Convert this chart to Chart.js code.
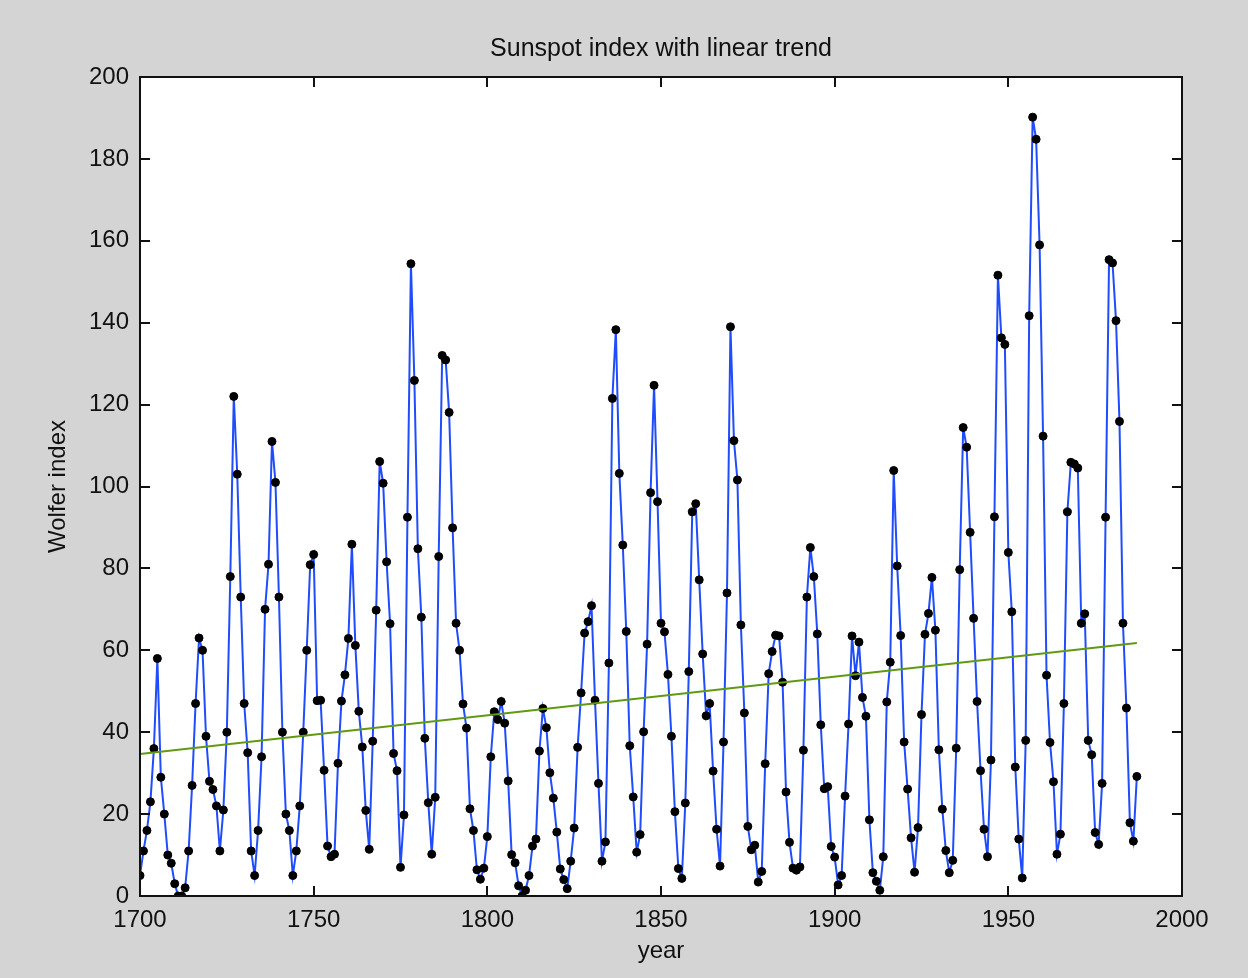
<!DOCTYPE html>
<html>
<head>
<meta charset="utf-8">
<title>Sunspot index with linear trend</title>
<script src="https://cdn.jsdelivr.net/npm/chart.js@4/dist/chart.umd.min.js"></script>
<style>
  html, body { margin: 0; padding: 0; background: #d4d4d4; }
  canvas { display: block; }
</style>
</head>
<body>
<canvas id="myChart" width="1248" height="978"></canvas>
<script>
// yearly Wolfer sunspot numbers, 1700..1987
const startYear = 1700;
const wolfer = [
  5, 11, 16, 23, 36, 58, 29, 20, 10, 8,
  3, 0, 0, 2, 11, 27, 47, 63, 60, 39,
  28, 26, 22, 11, 21, 40, 78, 122, 103, 73,
  47, 35, 11, 5, 16, 34, 70, 81, 111, 101,
  73, 40, 20, 16, 5, 11, 22, 40, 60, 80.9,
  83.4, 47.7, 47.8, 30.7, 12.2, 9.6, 10.2, 32.4, 47.6, 54,
  62.9, 85.9, 61.2, 45.1, 36.4, 20.9, 11.4, 37.8, 69.8, 106.1,
  100.8, 81.6, 66.5, 34.8, 30.6, 7, 19.8, 92.5, 154.4, 125.9,
  84.8, 68.1, 38.5, 22.8, 10.2, 24.1, 82.9, 132, 130.9, 118.1,
  89.9, 66.6, 60, 46.9, 41, 21.3, 16, 6.4, 4.1, 6.8,
  14.5, 34, 45, 43.1, 47.5, 42.2, 28.1, 10.1, 8.1, 2.5,
  0, 1.4, 5, 12.2, 13.9, 35.4, 45.8, 41.1, 30.1, 23.9,
  15.6, 6.6, 4, 1.8, 8.5, 16.6, 36.3, 49.6, 64.2, 67,
  70.9, 47.8, 27.5, 8.5, 13.2, 56.9, 121.5, 138.3, 103.2, 85.7,
  64.6, 36.7, 24.2, 10.7, 15, 40.1, 61.5, 98.5, 124.7, 96.3,
  66.6, 64.5, 54.1, 39, 20.6, 6.7, 4.3, 22.7, 54.8, 93.8,
  95.8, 77.2, 59.1, 44, 47, 30.5, 16.3, 7.3, 37.6, 74,
  139, 111.2, 101.6, 66.2, 44.7, 17, 11.3, 12.4, 3.4, 6,
  32.3, 54.3, 59.7, 63.7, 63.5, 52.2, 25.4, 13.1, 6.8, 6.3,
  7.1, 35.6, 73, 85.1, 78, 64, 41.8, 26.2, 26.7, 12.1,
  9.5, 2.7, 5, 24.4, 42, 63.5, 53.8, 62, 48.5, 43.9,
  18.6, 5.7, 3.6, 1.4, 9.6, 47.4, 57.1, 103.9, 80.6, 63.6,
  37.6, 26.1, 14.2, 5.8, 16.7, 44.3, 63.9, 69, 77.8, 64.9,
  35.7, 21.2, 11.1, 5.7, 8.7, 36.1, 79.7, 114.4, 109.6, 88.8,
  67.8, 47.5, 30.6, 16.3, 9.6, 33.2, 92.6, 151.6, 136.3, 134.7,
  83.9, 69.4, 31.5, 13.9, 4.4, 38, 141.7, 190.2, 184.8, 159,
  112.3, 53.9, 37.5, 27.9, 10.2, 15.1, 47, 93.8, 105.9, 105.5,
  104.5, 66.6, 68.9, 38, 34.5, 15.5, 12.6, 27.5, 92.5, 155.4,
  154.6, 140.5, 115.9, 66.6, 45.9, 17.9, 13.4, 29.2
];
const years = wolfer.map((v, i) => startYear + i);

// linear trend, end points
const trendYears = [1700, 1987];
const trendValues = [34.7, 61.8];

const xTicks = [1700, 1750, 1800, 1850, 1900, 1950, 2000];
const yTicks = [0, 20, 40, 60, 80, 100, 120, 140, 160, 180, 200];

const FONT = "'Liberation Sans', Arial, sans-serif";

// white plot area + box with inward ticks (matlab look)
const axesBox = {
    id: 'axesBox',
    beforeDraw(chart) {
        const {ctx, chartArea: a} = chart;
        ctx.save();
        ctx.fillStyle = '#ffffff';
        ctx.fillRect(a.left, a.top, a.right - a.left, a.bottom - a.top);
        ctx.restore();
    },
    afterDraw(chart) {
        const {ctx, chartArea: a, scales} = chart;
        const len = 10;
        ctx.save();
        ctx.strokeStyle = '#111';
        ctx.lineWidth = 2;
        ctx.strokeRect(a.left, a.top, a.right - a.left, a.bottom - a.top);
        ctx.beginPath();
        xTicks.forEach(v => {
            const px = Math.round(scales.x.getPixelForValue(v));
            ctx.moveTo(px, a.bottom); ctx.lineTo(px, a.bottom - len);
            ctx.moveTo(px, a.top); ctx.lineTo(px, a.top + len);
        });
        yTicks.forEach(v => {
            const py = Math.round(scales.y.getPixelForValue(v));
            ctx.moveTo(a.left, py); ctx.lineTo(a.left + len, py);
            ctx.moveTo(a.right, py); ctx.lineTo(a.right - len, py);
        });
        ctx.stroke();
        ctx.restore();
    }
};

const ctx = document.getElementById('myChart');

new Chart(ctx, {
    type: 'line',
    data: {
        datasets: [{
            label: 'Wolfer index',
            data: years.map((y, i) => ({x: y, y: wolfer[i]})),
            borderColor: '#1f4cff',
            borderWidth: 2,
            pointRadius: 4,
            pointStyle: 'circle',
            pointBackgroundColor: '#000',
            pointBorderColor: '#000',
            pointBorderWidth: 1,
            tension: 0,
            order: 2
        }, {
            label: 'trend',
            data: trendYears.map((y, i) => ({x: y, y: trendValues[i]})),
            borderColor: '#5f9a12',
            borderWidth: 2,
            pointRadius: 0,
            tension: 0,
            order: 1
        }]
    },
    options: {
        responsive: false,
        animation: false,
        layout: {padding: {left: 0, right: 66, top: 0, bottom: 0}},
        plugins: {
            legend: {display: false},
            tooltip: {enabled: false},
            title: {
                display: true,
                fullSize: false,
                text: 'Sunspot index with linear trend',
                color: '#111',
                font: {family: FONT, size: 25, weight: 'normal'},
                padding: {top: 34, bottom: 13}
            }
        },
        scales: {
            x: {
                type: 'linear',
                min: 1700,
                max: 2000,
                afterBuildTicks: s => { s.ticks = xTicks.map(v => ({value: v})); },
                afterFit: s => { s.height = 82; },
                grid: {display: false, drawTicks: false},
                border: {display: false},
                ticks: {
                    color: '#111',
                    padding: 10,
                    maxRotation: 0,
                    font: {family: FONT, size: 24},
                    callback: v => String(v)
                },
                title: {
                    display: true,
                    text: 'year',
                    color: '#111',
                    font: {family: FONT, size: 24},
                    padding: {top: 0, bottom: 12}
                }
            },
            y: {
                min: 0,
                max: 200,
                afterBuildTicks: s => { s.ticks = yTicks.map(v => ({value: v})); },
                afterFit: s => { s.width = 140; },
                grid: {display: false, drawTicks: false},
                border: {display: false},
                ticks: {
                    color: '#111',
                    padding: 11,
                    font: {family: FONT, size: 24},
                    callback: v => String(v)
                },
                title: {
                    display: true,
                    text: 'Wolfer index',
                    color: '#111',
                    font: {family: FONT, size: 24},
                    padding: {top: 44, bottom: 0}
                }
            }
        }
    },
    plugins: [axesBox]
});
</script>
</body>
</html>
